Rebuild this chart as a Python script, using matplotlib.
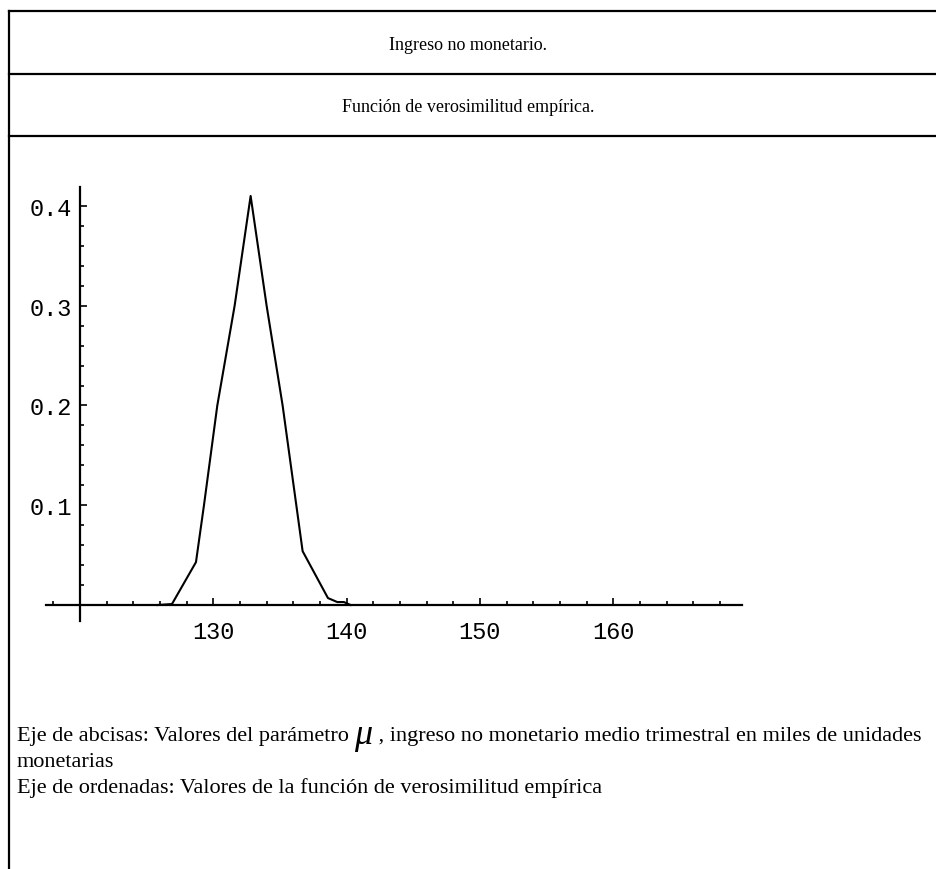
import matplotlib
matplotlib.use('Agg')
from matplotlib import pyplot as plt
from matplotlib.lines import Line2D
from matplotlib.ticker import FixedLocator
import numpy as np

# empirical likelihood of the mean quarterly non-monetary income (thousands)
mu = [125.8, 126.9, 128.7, 129.3, 130.3, 131.6, 132.8, 134.0, 135.2, 136.7, 138.6, 139.3, 139.8, 140.3]
lik = [0.0, 0.001, 0.043, 0.1, 0.2, 0.3, 0.41, 0.3, 0.2, 0.054, 0.007, 0.003, 0.003, 0.0]

x_major = [130, 140, 150, 160]
y_major = [0.1, 0.2, 0.3, 0.4]

title_1 = 'Ingreso no monetario.'
title_2 = 'Función de verosimilitud empírica.'
note_1a = 'Eje de abcisas: Valores del parámetro '
note_1mu = 'μ'
note_1b = ' , ingreso no monetario medio trimestral en miles de unidades'
note_2 = 'monetarias'
note_3 = 'Eje de ordenadas: Valores de la función de verosimilitud empírica'

W, H = 936, 870
fig = plt.figure(figsize=(W / 100, H / 100), dpi=100)
fig.patch.set_facecolor('white')

def px(x, y):
    # pixel position (from top-left) -> figure fraction
    return x / W, 1 - y / H

# table frame: left border, top border and the two separators
frame_lw = 1.6
for y in (12, 75, 137):
    (x0, y0), (x1, y1) = px(9, y), px(W, y)
    fig.add_artist(Line2D([x0, x1], [y0, y1], color='black', lw=frame_lw))
(x0, y0), (x1, y1) = px(9, 12), px(9, H)
fig.add_artist(Line2D([x0, x1], [y0, y1], color='black', lw=frame_lw))

serif = 'Liberation Serif'
fig.text(*px(468, 45), title_1, ha='center', va='center', family=serif, fontsize=13)
fig.text(*px(468, 107), title_2, ha='center', va='center', family=serif, fontsize=13)

# plot area, axes crossing at (120, 0)
ax = fig.add_axes([46 / W, 1 - 622 / H, 696 / W, 434 / H])
ax.plot(mu, lik, color='black', lw=1.5)
ax.set_xlim(117.45, 169.66)
ax.set_ylim(-0.016, 0.419)

ax.spines['left'].set_position(('data', 120))
ax.spines['bottom'].set_position(('data', 0))
ax.spines['right'].set_visible(False)
ax.spines['top'].set_visible(False)
for s in ('left', 'bottom'):
    ax.spines[s].set_linewidth(1.6)

ax.xaxis.set_major_locator(FixedLocator(x_major))
ax.xaxis.set_minor_locator(FixedLocator([v for v in np.arange(118, 170, 2) if v % 10 != 0 and v != 120]))
ax.yaxis.set_major_locator(FixedLocator(y_major))
ax.yaxis.set_minor_locator(FixedLocator([v for v in np.arange(0.02, 0.42, 0.02) if round(v * 100) % 10 != 0]))
ax.set_xticklabels([str(v) for v in x_major])
ax.set_yticklabels([f'{v:.1f}' for v in y_major])

ax.tick_params(which='both', direction='in', color='black', width=1.2)
ax.tick_params(which='major', length=5)
ax.tick_params(which='minor', length=3)
ax.tick_params(axis='x', which='major', pad=11)
ax.tick_params(axis='y', which='major', pad=6)
for lab in ax.get_xticklabels() + ax.get_yticklabels():
    lab.set_family('Liberation Mono')
    lab.set_fontsize(17)

# notes under the chart; the mu is set larger and italic
fs_note = 16
x_note = 17
renderer = fig.canvas.get_renderer()
t1 = fig.text(*px(x_note, 741), note_1a, ha='left', va='baseline', family=serif, fontsize=fs_note)
bb = t1.get_window_extent(renderer)
t_mu = fig.text(bb.x1 / W, 1 - 744 / H, note_1mu, ha='left', va='baseline', family=serif,
                style='italic', fontsize=26)
bb = t_mu.get_window_extent(renderer)
fig.text(bb.x1 / W, 1 - 741 / H, note_1b, ha='left', va='baseline', family=serif, fontsize=fs_note)
fig.text(*px(x_note, 767), note_2, ha='left', va='baseline', family=serif, fontsize=fs_note)
fig.text(*px(x_note, 793), note_3, ha='left', va='baseline', family=serif, fontsize=fs_note)

fig.savefig('out.png', dpi=100, facecolor='white')
